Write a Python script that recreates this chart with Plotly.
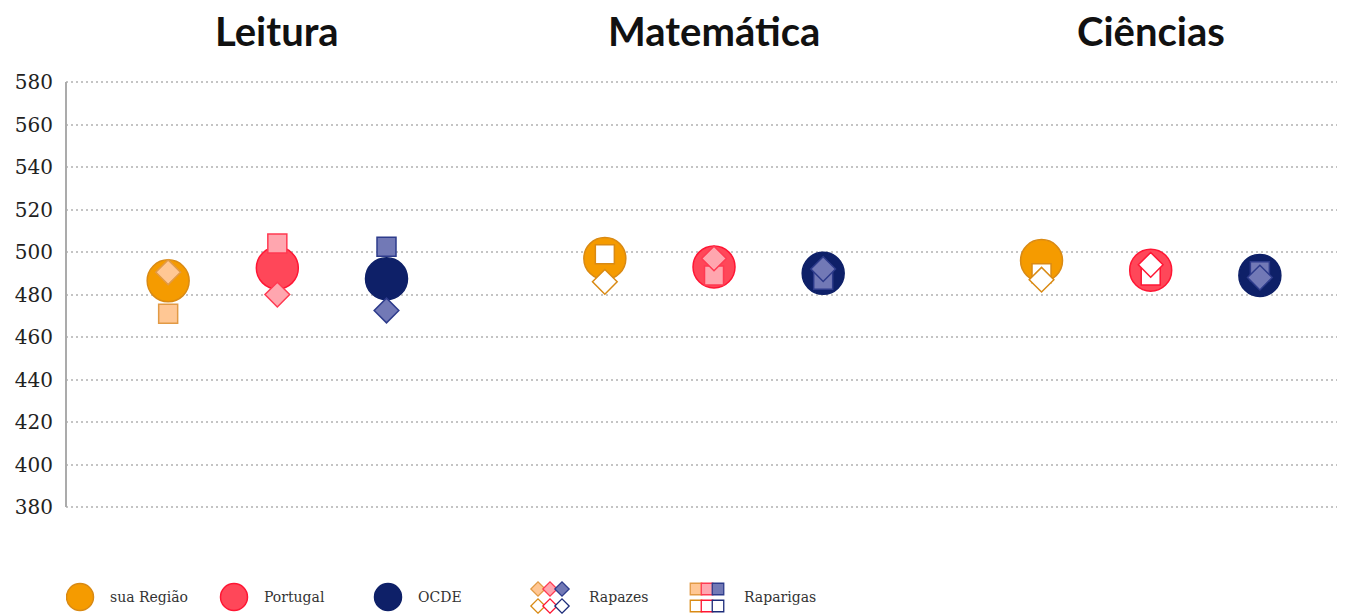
import plotly.graph_objects as go

# ---------------- data ----------------
domains = ["Leitura", "Matemática", "Ciências"]
entities = ["sua Região", "Portugal", "OCDE"]

media = {
    "sua Região": [486.5, 497.0, 496.0],
    "Portugal":   [492.5, 493.0, 491.5],
    "OCDE":       [487.5, 490.0, 489.0],
}
rapazes = {
    "sua Região": [490.5, 486.0, 487.0],
    "Portugal":   [480.0, 497.0, 494.0],
    "OCDE":       [472.5, 492.0, 488.0],
}
raparigas = {
    "sua Região": [471.0, 499.0, 490.0],
    "Portugal":   [504.0, 489.0, 489.0],
    "OCDE":       [502.5, 487.0, 491.0],
}
# white (open) markers
aberto = {
    "sua Região": [False, True, True],
    "Portugal":   [False, False, True],
    "OCDE":       [False, False, False],
}
y_ticks = [380, 400, 420, 440, 460, 480, 500, 520, 540, 560, 580]
legend_gender = ["Rapazes", "Raparigas"]

# ---------------- styles ----------------
main_fill = {"sua Região": "#F59B00", "Portugal": "#FF4759", "OCDE": "#0E2068"}
main_line = {"sua Região": "#D98A14", "Portugal": "#FF1634", "OCDE": "#0E2068"}
light_fill = {"sua Região": "#FFC794", "Portugal": "#FFA6AF", "OCDE": "#7279B6"}
light_line = {"sua Região": "#E29A45", "Portugal": "#FF3A52", "OCDE": "#2D3B8B"}
open_line = {"sua Região": "#D98A14", "Portugal": "#FF1634", "OCDE": "#1D2C7A"}

SERIF = "DejaVu Serif"
OFF = 8                         # page body margin
PW, PH = 1345, 614              # page size
W, H = PW - OFF, PH - OFF       # figure size
Y_LO, Y_HI = 379, 581
PX_PER_UNIT = (507 - 82) / 200
TOP_PAGE = 82 - (Y_HI - 580) * PX_PER_UNIT
BOT_PAGE = 507 + (380 - Y_LO) * PX_PER_UNIT
ML, MT = 66 - OFF, TOP_PAGE - OFF
PLOT_BOTTOM = BOT_PAGE - OFF
dom_bottom = (H - PLOT_BOTTOM) / (H - MT)

fig = go.Figure()

def xpos(g, e):
    return 4 * g + e

# circles (means)
for e, ent in enumerate(entities):
    fig.add_trace(go.Scatter(
        x=[xpos(g, e) for g in range(len(domains))], y=media[ent],
        mode="markers", showlegend=False, hoverinfo="skip",
        marker=dict(symbol="circle", size=42, color=main_fill[ent],
                    line=dict(color=main_line[ent], width=1.5)),
    ))

def gender_trace(values, symbol):
    for e, ent in enumerate(entities):
        fills = ["#FFFFFF" if aberto[ent][g] else light_fill[ent] for g in range(len(domains))]
        lines = [open_line[ent] if aberto[ent][g] else light_line[ent] for g in range(len(domains))]
        fig.add_trace(go.Scatter(
            x=[xpos(g, e) for g in range(len(domains))], y=values[ent],
            mode="markers", showlegend=False, hoverinfo="skip",
            marker=dict(symbol=symbol, size=19, color=fills,
                        line=dict(color=lines, width=1.5)),
        ))

gender_trace(raparigas, "square")
gender_trace(rapazes, "diamond")

# ---------------- custom legend (overlay axis in page-pixel units) ----------------
leg_y = 597
circle_x = [80, 234, 388]
text_x = [108, 262, 416]
for ent, cx, tx in zip(entities, circle_x, text_x):
    fig.add_trace(go.Scatter(
        x=[cx], y=[leg_y], xaxis="x2", yaxis="y2", mode="markers",
        showlegend=False, hoverinfo="skip",
        marker=dict(symbol="circle", size=27, color=main_fill[ent],
                    line=dict(color=main_line[ent], width=1.5)),
    ))
    fig.add_annotation(x=tx, y=leg_y, xref="x2", yref="y2", text=ent,
                       showarrow=False, xanchor="left", yanchor="middle",
                       font=dict(family=SERIF, size=14, color="#333"))

for (label, symbol, x0, sz, tx, step) in [("Rapazes", "diamond", 538, 11, 587, 12),
                                            ("Raparigas", "square", 696, 11.5, 742, 11)]:
    for row, yy in enumerate([606, 589]):
        for e, ent in enumerate(entities):
            filled = row == 1
            fig.add_trace(go.Scatter(
                x=[x0 + step * e], y=[yy], xaxis="x2", yaxis="y2", mode="markers",
                showlegend=False, hoverinfo="skip", cliponaxis=False,
                marker=dict(symbol=symbol, size=sz,
                            color=light_fill[ent] if filled else "#FFFFFF",
                            line=dict(color=light_line[ent] if filled else open_line[ent], width=1.3)),
            ))
    fig.add_annotation(x=tx, y=leg_y, xref="x2", yref="y2", text=label,
                       showarrow=False, xanchor="left", yanchor="middle",
                       font=dict(family=SERIF, size=14, color="#333"))

# domain titles
for g, d in enumerate(domains):
    fig.add_annotation(x=xpos(g, 1), y=(H - (31 - OFF)) / (H - MT), xref="x", yref="paper",
                       text=f"<b>{d}</b>", showarrow=False, yanchor="middle", height=40,
                       font=dict(family="Lato", size=40, color="#111"))

step = 109
first = 168 - OFF
fig.update_layout(
    template="none",
    width=W, height=H, autosize=False,
    margin=dict(l=ML, r=0, t=MT, b=0, pad=0, autoexpand=False),
    plot_bgcolor="white", paper_bgcolor="white",
    xaxis=dict(range=[-(first - ML) / step, (W - 2 - first) / step], showgrid=False,
               zeroline=False, showticklabels=False, showline=False, ticks="",
               domain=[0, 1], fixedrange=True, automargin=False),
    yaxis=dict(range=[Y_LO, Y_HI], tickvals=y_ticks, domain=[dom_bottom, 1],
               showgrid=True, gridcolor="#C4C4C4", griddash="1.5px,3.5px", gridwidth=1.5,
               zeroline=False, showline=False, ticks="", ticklabelstandoff=12,
               automargin=False, fixedrange=True,
               tickfont=dict(family=SERIF, size=20, color="#222")),
    xaxis2=dict(range=[ML + OFF, W + OFF], domain=[0, 1], anchor="y2", visible=False,
                fixedrange=True, automargin=False),
    yaxis2=dict(range=[H + OFF, BOT_PAGE], domain=[0, dom_bottom], anchor="x2",
                visible=False, fixedrange=True, automargin=False),
    shapes=[dict(type="line", xref="paper", yref="y", x0=0, x1=0, y0=380, y1=580,
                 line=dict(color="#ABABAB", width=2))],
    showlegend=False,
)

fig.write_html("out.html")
